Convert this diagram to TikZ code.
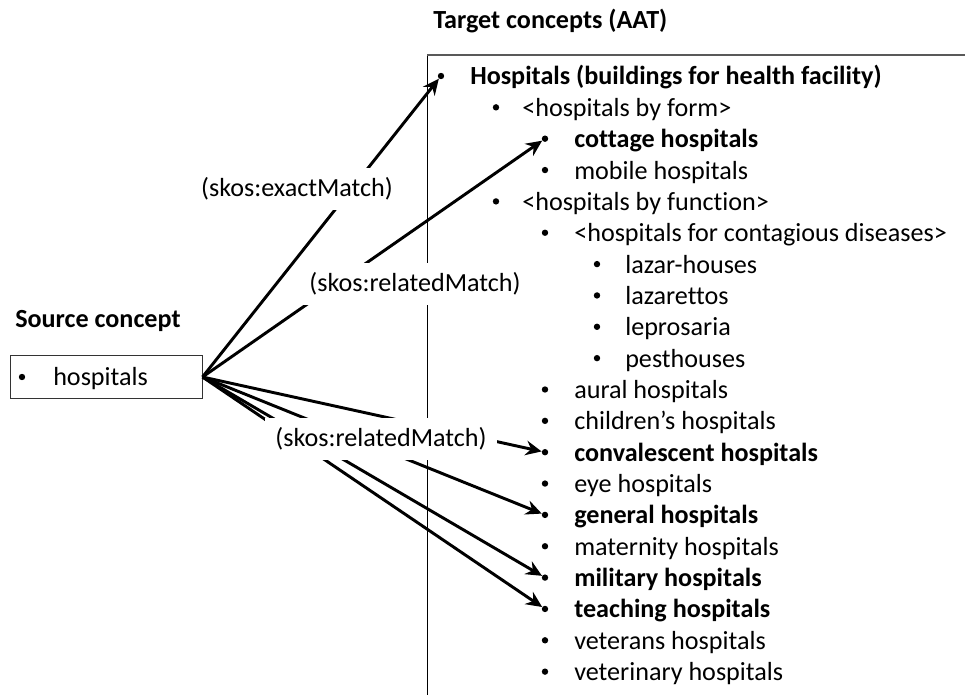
\documentclass[tikz,border=0pt]{standalone}
\usepackage{fontspec}
\setmainfont{Carlito}[Ligatures=NoCommon]
\usetikzlibrary{arrows.meta}

\begin{document}
\begin{tikzpicture}[x=0.75pt, y=-0.75pt]
    % Define styles
    \tikzset{
        heading/.style={
            font=\fontsize{19.6}{23}\selectfont\bfseries,
            anchor=base west,
            inner sep=0pt
        },
        entry/.style={
            font=\fontsize{19.6}{23}\selectfont,
            anchor=base west,
            inner sep=0pt
        },
        dot/.style={
            circle,
            fill=black,
            inner sep=0pt,
            minimum size=4.8pt
        },
        match/.style={
            -{Stealth[length=12pt, width=11pt, inset=4pt]},
            line width=2.2pt
        },
        relation/.style={
            font=\fontsize{19.6}{23}\selectfont,
            fill=white,
            inner xsep=8pt,
            inner ysep=7pt
        }
    }
    \useasboundingbox (0,0) rectangle (965,695);

    % Headings
    \node[heading] (srchead) at (15,328) {Source concept};
    \node[heading] (tgthead) at (433,29) {Target concepts (AAT)};

    % Source concept box
    \node[draw=black!80, line width=0.75pt, minimum width=144pt, minimum height=32pt] (src) at (106,377) {};
    \node[dot] (srcdot) at (22,377) {};
    \node[entry] (srctext) at (53,386) {hospitals};

    % Target concept frame
    \coordinate (corner) at (427,55);
    \draw[line width=0.75pt] (corner) -- (427,695);
    \draw[black!65, line width=1pt] (corner) -- (965,55);

    % Target hierarchy
    \foreach \lvl/\txt [count=\i] in {
        0/\textbf{Hospitals (buildings for health facility)},
        1/<hospitals by form>,
        2/\textbf{cottage hospitals},
        2/mobile hospitals,
        1/<hospitals by function>,
        2/<hospitals for contagious diseases>,
        3/lazar-houses,
        3/lazarettos,
        3/leprosaria,
        3/pesthouses,
        2/aural hospitals,
        2/children’s hospitals,
        2/\textbf{convalescent hospitals},
        2/eye hospitals,
        2/\textbf{general hospitals},
        2/maternity hospitals,
        2/\textbf{military hospitals},
        2/\textbf{teaching hospitals},
        2/veterans hospitals,
        2/veterinary hospitals}
    {
        \pgfmathsetmacro{\bx}{{441,496,545,597}[\lvl]}
        \pgfmathsetmacro{\tx}{{470,522,574,625}[\lvl]}
        \pgfmathsetmacro{\yy}{76+(\i-1)*31.35}
        \node[dot] (b\i) at (\bx,\yy) {};
        \node[entry] (t\i) at (\tx,\yy+9) {\txt};
    }

    % Mappings
    \draw[match] (src.east) -- (b1);
    \draw[match] (src.east) -- (b3);
    \foreach \j in {13,15,17,18}
        \draw[match] (src.east) -- (b\j);

    % Mapping labels
    \node[relation] (exact) at (297,189) {(skos:exactMatch)};
    \node[relation] (related1) at (415,284) {(skos:relatedMatch)};
    \node[relation] (related2) at (381,439) {(skos:relatedMatch)};
\end{tikzpicture}
\end{document}
